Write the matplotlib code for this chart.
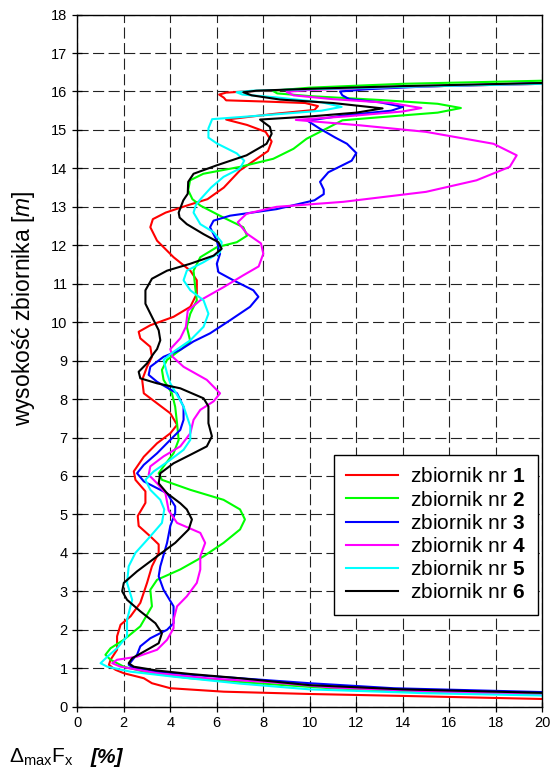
import matplotlib
matplotlib.use("Agg")
import matplotlib.pyplot as plt
import numpy as np

plt.rcParams["font.family"] = ["Liberation Sans", "DejaVu Sans"]
plt.rcParams["mathtext.fontset"] = "custom"
plt.rcParams["mathtext.rm"] = "Liberation Sans"
plt.rcParams["mathtext.it"] = "Liberation Sans:italic"
plt.rcParams["mathtext.bf"] = "Liberation Sans:bold"

# profiles: delta max Fx [%] (x) against tank height [m] (y), read top -> bottom
x1 = [20, 14, 10, 7.5, 6.4, 6.1, 6.3, 6.4, 8.0, 9.8, 10.35, 10.2, 8.5, 6.4, 7.3, 8.1, 8.36, 8.2, 7.6, 7.0,
      6.3, 5.6, 4.8, 3.8, 3.25, 3.14, 3.43, 4.14, 4.86, 5.14, 5.14, 4.86, 4.14, 3.14, 2.64, 2.71, 3.14, 3.21,
      3.0, 2.79, 2.86, 3.43, 4.0, 4.29, 4.0, 3.43, 2.86, 2.43, 2.5, 2.93, 2.93, 2.6, 2.64, 3.14, 3.5, 3.5,
      3.21, 3.0, 2.71, 2.29, 1.86, 1.71, 1.71, 1.43, 1.36, 1.64, 2.0, 2.86, 3.21, 4.0, 6.3, 10.0, 14, 20]
y1 = [16.2, 16.12, 16.06, 16.01, 15.97, 15.92, 15.84, 15.77, 15.74, 15.7, 15.62, 15.52, 15.42, 15.27, 15.13,
      14.95, 14.7, 14.45, 14.2, 13.95, 13.5, 13.2, 13.05, 12.85, 12.68, 12.47, 12.12, 11.69, 11.34, 11.09,
      10.74, 10.4, 10.14, 9.92, 9.75, 9.58, 9.36, 9.1, 8.84, 8.5, 8.15, 7.89, 7.63, 7.33, 7.11, 6.85, 6.5,
      6.12, 5.9, 5.6, 5.3, 4.96, 4.7, 4.43, 4.22, 4.0, 3.65, 3.22, 2.7, 2.35, 2.13, 1.83, 1.48, 1.22, 1.09,
      0.96, 0.87, 0.74, 0.61, 0.48, 0.39, 0.33, 0.28, 0.2]

x2 = [20, 14, 10, 8.4, 8.6, 10, 13, 15.5, 16.5, 15.5, 13, 11.4, 10.7, 9.86, 9.3, 8.43, 7.0, 5.42, 4.85,
      4.77, 4.95, 5.3, 6.29, 7.14, 7.3, 6.86, 6.0, 5.29, 5.0, 5.07, 5.14, 4.86, 4.71, 4.86, 4.43, 3.86, 3.64,
      3.71, 4.07, 4.21, 4.29, 4.36, 4.14, 3.71, 3.5, 3.64, 4.86, 6.29, 7.0, 7.21, 7.0, 6.29, 5.43, 4.43, 3.43,
      3.14, 3.21, 2.71, 2.0, 1.43, 1.21, 1.43, 2.0, 3.14, 4.86, 7.71, 10.86, 15, 20]
y2 = [16.28, 16.2, 16.1, 16.02, 15.95, 15.88, 15.78, 15.68, 15.57, 15.45, 15.33, 15.25, 15.03, 14.77, 14.51,
      14.25, 14.04, 13.86, 13.69, 13.43, 13.2, 13.03, 12.72, 12.47, 12.25, 12.08, 11.95, 11.69, 11.34, 10.91,
      10.57, 10.22, 9.88, 9.5, 9.28, 9.02, 8.76, 8.5, 8.15, 7.8, 7.37, 6.94, 6.59, 6.25, 6.07, 5.9, 5.64,
      5.38, 5.13, 4.87, 4.61, 4.26, 3.91, 3.57, 3.3, 3.04, 2.61, 2.09, 1.74, 1.52, 1.35, 1.22, 1.04, 0.87,
      0.74, 0.61, 0.48, 0.38, 0.32]

x3 = [20, 15, 12.5, 11.3, 11.4, 11.7, 13, 14.0, 13.5, 11.5, 9.9, 10.44, 11.1, 11.6, 12.0, 11.8, 10.8,
      10.44, 10.6, 10.6, 10.2, 8.57, 6.57, 5.86, 5.71, 6.0, 6.14, 6.0, 6.07, 6.71, 7.57, 7.79, 7.43, 6.57,
      5.71, 5.0, 4.43, 3.71, 3.14, 3.07, 3.43, 4.29, 4.57, 4.57, 4.43, 4.0, 3.43, 2.86, 2.57, 2.86, 3.86,
      4.21, 4.21, 4.0, 3.86, 3.57, 3.5, 3.71, 4.14, 4.14, 3.86, 3.14, 2.71, 2.57, 2.43, 2.21, 2.43, 3.43,
      4.86, 7.0, 10, 13.6, 20]
y3 = [16.22, 16.13, 16.06, 16.0, 15.9, 15.8, 15.72, 15.6, 15.5, 15.38, 15.24, 15.03, 14.8, 14.64, 14.4,
      14.2, 13.9, 13.65, 13.45, 13.33, 13.17, 12.94, 12.77, 12.64, 12.47, 12.12, 11.78, 11.52, 11.3, 11.09,
      10.83, 10.66, 10.4, 10.05, 9.71, 9.5, 9.28, 9.1, 8.84, 8.63, 8.45, 8.15, 7.8, 7.46, 7.2, 6.94, 6.59,
      6.29, 6.07, 5.86, 5.55, 5.21, 5.04, 4.7, 4.26, 3.65, 3.39, 3.04, 2.61, 2.17, 2.0, 1.78, 1.57, 1.35,
      1.26, 1.09, 1.0, 0.91, 0.83, 0.74, 0.61, 0.48, 0.38]

x4 = [20, 14, 10, 9.0, 9.3, 11, 13.5, 14.8, 14, 11.5, 9.4, 12.16, 15.0, 17.9, 18.9, 18.6, 17.17, 15.0,
      11.44, 8.57, 7.28, 6.9, 7.3, 7.9, 8.0, 7.8, 7.14, 6.29, 5.29, 4.75, 4.67, 4.43, 4.0, 4.1, 4.57, 5.57,
      6.14, 5.86, 5.29, 5.0, 4.86, 4.43, 3.71, 3.14, 3.07, 3.43, 3.79, 3.93, 4.29, 5.29, 5.5, 5.29, 5.29,
      5.14, 4.71, 4.29, 4.14, 4.14, 3.86, 3.43, 2.57, 1.71, 1.5, 1.86, 3.43, 5.57, 8.43, 10.9, 15, 20]
y4 = [16.2, 16.12, 16.04, 15.99, 15.9, 15.8, 15.7, 15.57, 15.48, 15.35, 15.26, 15.12, 14.95, 14.64, 14.34,
      14.04, 13.69, 13.39, 13.13, 13.0, 12.82, 12.6, 12.3, 12.05, 11.78, 11.45, 11.22, 10.91, 10.57, 10.3,
      9.88, 9.58, 9.3, 9.1, 8.84, 8.5, 8.15, 7.94, 7.72, 7.46, 7.11, 6.77, 6.51, 6.25, 6.03, 5.81, 5.55,
      5.1, 4.78, 4.52, 4.26, 3.91, 3.57, 3.22, 2.87, 2.61, 2.26, 2.04, 1.74, 1.48, 1.3, 1.22, 1.13, 1.04,
      0.87, 0.74, 0.63, 0.5, 0.4, 0.31]

x5 = [20, 14, 10, 7.5, 6.85, 7.1, 8.5, 10.5, 11.37, 10.5, 8, 5.8, 5.64, 5.64, 6.0, 6.86, 7.18, 7.0, 6.29,
      5.75, 5.3, 5.1, 5.0, 5.29, 5.86, 6.21, 6.14, 5.43, 4.71, 4.57, 4.86, 5.43, 5.64, 5.43, 4.86, 4.14,
      3.71, 3.86, 4.0, 4.29, 4.57, 4.86, 4.86, 4.57, 4.0, 3.29, 2.93, 3.14, 3.57, 3.74, 3.64, 3.14, 2.5,
      2.21, 2.14, 2.36, 2.14, 2.14, 1.71, 1.29, 1.0, 1.29, 2.29, 4.14, 7.0, 10, 15, 20]
y5 = [16.2, 16.12, 16.06, 16.02, 15.98, 15.92, 15.85, 15.72, 15.6, 15.5, 15.38, 15.28, 15.04, 14.8, 14.65,
      14.39, 14.2, 14.0, 13.78, 13.5, 13.2, 13.05, 12.85, 12.55, 12.34, 12.08, 11.82, 11.56, 11.34, 11.09,
      10.83, 10.57, 10.22, 9.88, 9.53, 9.23, 9.02, 8.67, 8.41, 8.11, 7.81, 7.29, 6.94, 6.68, 6.42, 6.12,
      5.9, 5.64, 5.38, 5.13, 4.78, 4.43, 4.0, 3.65, 3.22, 2.78, 2.26, 1.83, 1.52, 1.3, 1.13, 1.04, 0.91,
      0.78, 0.6, 0.45, 0.35, 0.29]

x6 = [20, 14, 10, 7.7, 7.14, 7.5, 8.72, 11, 13.13, 12, 10, 7.86, 8.28, 8.36, 8.14, 7.28, 6.0, 5.0, 4.77,
      4.75, 4.56, 4.36, 4.4, 4.71, 5.43, 6.07, 6.21, 5.86, 4.86, 3.86, 3.21, 2.93, 2.93, 3.21, 3.5, 3.57,
      3.43, 3.29, 3.0, 2.64, 2.71, 3.43, 4.43, 5.43, 5.64, 5.64, 5.79, 5.57, 4.86, 4.14, 3.57, 3.5, 3.86,
      4.43, 4.71, 4.93, 4.79, 4.21, 3.43, 2.57, 2.0, 1.93, 2.14, 2.71, 3.36, 3.64, 3.5, 2.86, 2.36, 2.21,
      2.43, 3.43, 4.86, 7.0, 10, 14, 20]
y6 = [16.22, 16.14, 16.07, 16.02, 15.98, 15.9, 15.79, 15.7, 15.56, 15.45, 15.35, 15.27, 15.08, 14.9, 14.64,
      14.34, 14.08, 13.86, 13.65, 13.34, 13.17, 12.85, 12.72, 12.55, 12.29, 12.08, 11.91, 11.73, 11.52,
      11.34, 11.13, 10.83, 10.48, 10.14, 9.79, 9.53, 9.3, 9.19, 8.93, 8.71, 8.54, 8.41, 8.28, 8.02, 7.81,
      7.37, 7.03, 6.77, 6.55, 6.33, 6.07, 5.81, 5.55, 5.29, 5.13, 4.87, 4.61, 4.26, 3.91, 3.52, 3.22, 3.0,
      2.78, 2.48, 2.17, 1.91, 1.65, 1.43, 1.26, 1.13, 1.04, 0.94, 0.85, 0.74, 0.56, 0.45, 0.36]

series = [(x1, y1), (x2, y2), (x3, y3), (x4, y4), (x5, y5), (x6, y6)]
colors = ["#ff0000", "#00ff00", "#0000ff", "#ff00ff", "#00ffff", "#000000"]
labels = ["zbiornik nr $\\mathbf{%d}$" % (i + 1) for i in range(6)]

fig = plt.figure(figsize=(5.51, 7.80), dpi=100)
ax = fig.add_axes([0.1403, 0.0940, 0.8439, 0.8873])

for (xs, ys), c, lab in zip(series, colors, labels):
    ax.plot(xs, ys, color=c, lw=1.5, label=lab, solid_joinstyle="round")

ax.set_xlim(0, 20)
ax.set_ylim(0, 18)
ax.set_xticks(np.arange(0, 21, 2))
ax.set_yticks(np.arange(0, 19, 1))
ax.grid(True, color="#222222", linestyle=(0, (10, 4)), linewidth=0.8)
ax.tick_params(direction="inout", length=7, width=0.9, labelsize=10.5, colors="black")
for sp in ax.spines.values():
    sp.set_linewidth(1.0)

leg = ax.legend(loc="upper right", bbox_to_anchor=(0.990, 0.3637), borderaxespad=0,
                fancybox=False, framealpha=1, edgecolor="black", fontsize=15,
                handlelength=2.5, handletextpad=0.55, labelspacing=0.2,
                borderpad=0.6)
leg.get_frame().set_linewidth(1.0)

fig.text(0.018, 0.605, "wysokość zbiornika $\\mathit{[m]}$", rotation=90,
         fontsize=16.5, va="center", ha="left")
fig.text(0.016, 0.022, "$\\Delta_{\\mathrm{max}}\\mathrm{F}_{\\mathrm{x}}$", fontsize=15)
fig.text(0.165, 0.022, "[%]", fontsize=15, fontweight="bold", fontstyle="italic")

fig.savefig("out.png", dpi=100)
